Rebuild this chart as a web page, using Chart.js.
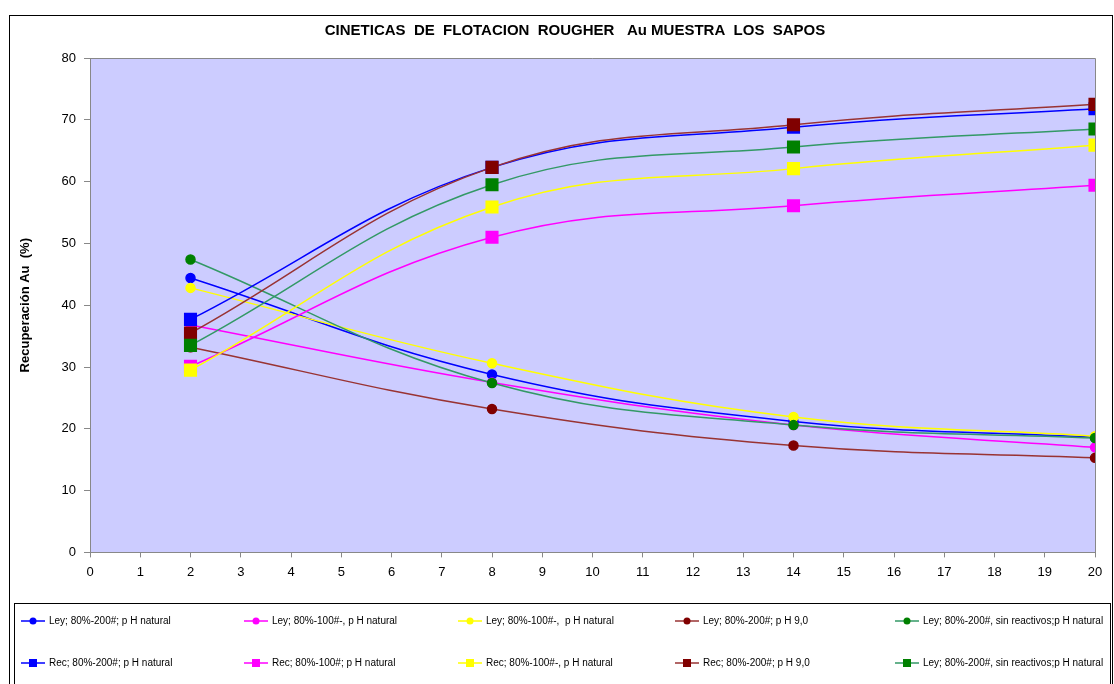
<!DOCTYPE html>
<html>
<head>
<meta charset="utf-8">
<script src="https://cdn.jsdelivr.net/npm/chart.js@4.4.1/dist/chart.umd.min.js"></script>
<style>
  html, body { margin: 0; padding: 0; background: #ffffff; }
  #wrap { width: 1114px; height: 684px; position: relative; }
</style>
</head>
<body>
<div id="wrap"><canvas id="c" width="1114" height="684"></canvas></div>
<script>
// Flotation time (min)
const tiempos = [2, 8, 14, 20];

// Au grade (Ley) series
const leyPhNatural200 = [44.4, 28.8, 21.2, 18.6];
const leyPhNatural100 = [36.8, 27.5, 20.6, 17.0];
const leyPhNatural100b = [42.8, 30.6, 21.9, 18.8];
const leyPh9 = [33.2, 23.2, 17.3, 15.3];
const leySinReactivos = [47.4, 27.4, 20.6, 18.5];

// Au recovery (Rec) series
const recPhNatural200 = [37.7, 62.3, 68.8, 71.8];
const recPhNatural100 = [30.1, 51.0, 56.1, 59.4];
const recPhNatural100b = [29.5, 55.9, 62.1, 65.9];
const recPh9 = [35.5, 62.3, 69.2, 72.5];
const recSinReactivos = [33.5, 59.5, 65.6, 68.5];

const etiquetas = [
  'Ley; 80%-200#; p H natural',
  'Ley; 80%-100#-, p H natural',
  'Ley; 80%-100#-,  p H natural',
  'Ley; 80%-200#; p H 9,0',
  'Ley; 80%-200#, sin reactivos;p H natural',
  'Rec; 80%-200#; p H natural',
  'Rec; 80%-100#; p H natural',
  'Rec; 80%-100#-, p H natural',
  'Rec; 80%-200#; p H 9,0',
  'Ley; 80%-200#, sin reactivos;p H natural'
];

const tituloGrafico = 'CINETICAS  DE  FLOTACION  ROUGHER   Au MUESTRA  LOS  SAPOS';
const tituloEjeY = 'Recuperación Au  (%)';
const ticksX = Array.from({length: 21}, (_, i) => i);

const lineColors = ['#0000ff', '#ff00ff', '#ffff00', '#993333', '#339966'];
const markColors = ['#0000ff', '#ff00ff', '#ffff00', '#800000', '#008000'];

const series = [leyPhNatural200, leyPhNatural100, leyPhNatural100b, leyPh9, leySinReactivos,
                recPhNatural200, recPhNatural100, recPhNatural100b, recPh9, recSinReactivos];

const datasets = series.map((vals, i) => {
  const k = i % 5;
  const isRec = i >= 5;
  return {
    label: etiquetas[i],
    data: tiempos.map((t, j) => ({x: t, y: vals[j]})),
    borderColor: lineColors[k],
    backgroundColor: markColors[k],
    pointBackgroundColor: markColors[k],
    pointBorderColor: markColors[k],
    pointStyle: isRec ? 'rect' : 'circle',
    pointRadius: isRec ? 8.2 : 4.5,
    pointHoverRadius: isRec ? 8.2 : 4.5,
    borderWidth: 1.5,
    tension: 0.4,
    fill: false,
    order: isRec ? 10 - k : 20 - k
  };
});

const FONT = '"Liberation Sans", Arial, sans-serif';

const decor = {
  id: 'decor',
  beforeDraw(chart) {
    const {ctx, chartArea: a} = chart;
    ctx.save();
    ctx.fillStyle = '#ccccff';
    ctx.fillRect(a.left, a.top, a.right - a.left, a.bottom - a.top);
    ctx.strokeStyle = '#888888';
    ctx.lineWidth = 1;
    ctx.beginPath();
    ctx.moveTo(a.left, a.top + 0.5);
    ctx.lineTo(a.right + 0.5, a.top + 0.5);
    ctx.lineTo(a.right + 0.5, a.bottom);
    ctx.stroke();
    ctx.restore();
  },
  afterDraw(chart) {
    const ctx = chart.ctx;
    ctx.save();
    // outer frame
    ctx.strokeStyle = '#000000';
    ctx.lineWidth = 1;
    ctx.strokeRect(9.5, 15.5, 1103, 700);
    // title
    ctx.fillStyle = '#000000';
    ctx.font = 'bold 15px ' + FONT;
    ctx.textAlign = 'center';
    ctx.textBaseline = 'middle';
    ctx.fillText(tituloGrafico, 575, 31);
    // legend box
    ctx.strokeStyle = '#000000';
    ctx.strokeRect(14.5, 603.5, 1096, 100);
    const cols = [33, 256, 470, 687, 907];
    const rows = [621, 663];
    ctx.font = '10px ' + FONT;
    ctx.textAlign = 'left';
    chart.data.datasets.forEach((ds, i) => {
      const cx = cols[i % 5];
      const cy = rows[Math.floor(i / 5)];
      ctx.strokeStyle = ds.borderColor;
      ctx.lineWidth = 1.5;
      ctx.beginPath();
      ctx.moveTo(cx - 12, cy);
      ctx.lineTo(cx + 12, cy);
      ctx.stroke();
      ctx.fillStyle = ds.pointBackgroundColor;
      if (ds.pointStyle === 'rect') {
        ctx.fillRect(cx - 4, cy - 4, 8, 8);
      } else {
        ctx.beginPath();
        ctx.arc(cx, cy, 3.5, 0, Math.PI * 2);
        ctx.fill();
      }
      ctx.fillStyle = '#000000';
      ctx.fillText(ds.label, cx + 16, cy);
    });
    ctx.restore();
  }
};

new Chart(document.getElementById('c'), {
  type: 'line',
  data: { datasets },
  plugins: [decor],
  options: {
    responsive: false,
    animation: false,
    devicePixelRatio: 1,
    layout: { padding: { left: 14, right: 19, top: 58, bottom: 97 } },
    plugins: {
      legend: { display: false },
      title: { display: false },
      tooltip: { enabled: false }
    },
    scales: {
      x: {
        type: 'linear',
        min: 0, max: 20,
        afterBuildTicks: (s) => { s.ticks = ticksX.map(v => ({value: v})); },
        ticks: { color: '#000', font: { family: FONT, size: 13 }, padding: 7, maxRotation: 0, autoSkip: false },
        grid: { display: true, drawOnChartArea: false, drawTicks: true, tickLength: 5, color: '#888888' },
        border: { color: '#888888', width: 1 }
      },
      y: {
        min: 0, max: 80,
        afterFit: (s) => { s.width = 76; },
        ticks: { stepSize: 10, color: '#000', font: { family: FONT, size: 13 }, padding: 8 },
        grid: { display: true, drawOnChartArea: false, drawTicks: true, tickLength: 6, color: '#888888' },
        border: { color: '#888888', width: 1 },
        title: { display: true, text: tituloEjeY, color: '#000', font: { family: FONT, size: 13, weight: 'bold' }, padding: { top: 4, bottom: 4 } }
      }
    }
  }
});
</script>
</body>
</html>
